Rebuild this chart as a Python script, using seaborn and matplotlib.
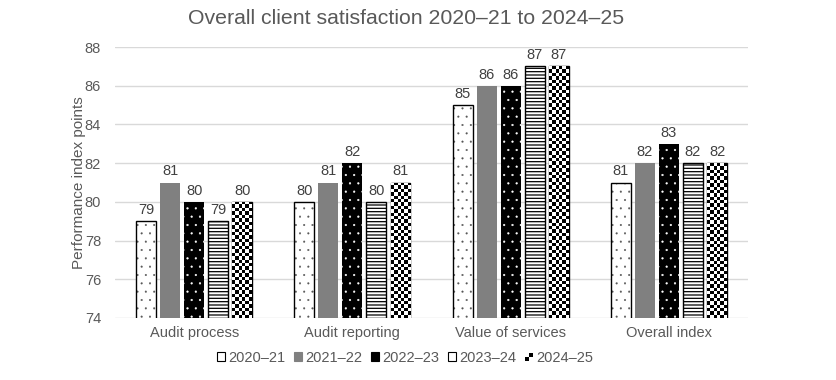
import numpy as np
import pandas as pd
import matplotlib
matplotlib.use('Agg')
import matplotlib.pyplot as plt
from matplotlib.patches import Patch, Rectangle
from matplotlib.legend_handler import HandlerBase
import seaborn as sns

categories = ['Audit process', 'Audit reporting', 'Value of services', 'Overall index']
years = ['2020–21', '2021–22', '2022–23', '2023–24', '2024–25']
v2020_21 = [79, 80, 85, 81]
v2021_22 = [81, 81, 86, 82]
v2022_23 = [80, 82, 86, 83]
v2023_24 = [79, 80, 87, 82]
v2024_25 = [80, 81, 87, 82]
yticks = [74, 76, 78, 80, 82, 84, 86, 88]

series = [v2020_21, v2021_22, v2022_23, v2023_24, v2024_25]
rows = []
for yr, vals in zip(years, series):
    for cat, v in zip(categories, vals):
        rows.append({'category': cat, 'year': yr, 'value': v})
df = pd.DataFrame(rows)

sns.set_theme(style='white')
plt.rcParams['font.family'] = ['Liberation Sans', 'DejaVu Sans']
plt.rcParams['hatch.linewidth'] = 0.8
txt = '#595959'

fig = plt.figure(figsize=(8.37, 3.80), dpi=100)
ax = fig.add_axes([0.1374, 0.1632, 0.7563, 0.713])

sns.barplot(data=df, x='category', y='value', hue='year', hue_order=years,
            order=categories, palette=['white'] * 5, width=0.76, gap=0.17,
            legend=False, ax=ax, zorder=3)

# styling per series
styles = [
    dict(fc='white', ec='black', lw=1.0, hatch='..', hc='#555555', hlw=0.25),
    dict(fc='#808080', ec='#808080', lw=0.0, hatch=None, hc=None, hlw=None),
    dict(fc='black', ec='white', lw=0.0, hatch='..', hc='white', hlw=0.35),
    dict(fc='white', ec='black', lw=1.0, hatch='-----', hc='black', hlw=0.9),
    dict(fc='white', ec='black', lw=1.0, hatch=None, hc=None, hlw=None),
]
for cont, st in zip(ax.containers, styles):
    for p in cont:
        p.set_facecolor(st['fc'])
        p.set_edgecolor(st['ec'])
        p.set_linewidth(st['lw'])
        if st['hatch']:
            p.set_hatch(st['hatch'])
            if hasattr(p, 'set_hatch_linewidth'):
                p.set_hatch_linewidth(st['hlw'])
        if st['hc'] is not None and st['hc'] != st['ec']:
            p._hatch_color = matplotlib.colors.to_rgba(st['hc'])

# checkerboard texture for last series
px_per_unit = 271 / 14.0
for p in ax.containers[4]:
    x0, w, top = p.get_x(), p.get_width(), p.get_height()
    nr = max(1, int(round((top - 74) * px_per_unit / 3.4)))
    nc = 6
    board = (np.indices((nr, nc)).sum(axis=0) % 2).astype(float)
    im = ax.imshow(board, cmap='gray', interpolation='nearest', aspect='auto',
                   extent=[x0, x0 + w, 74, top], origin='lower', zorder=3.5,
                   vmin=0, vmax=1)
    im.set_clip_path(p)
ax.set_ylim(74, 88)
ax.set_xlim(-0.5, 3.5)

for cont in ax.containers:
    ax.bar_label(cont, fmt='%d', padding=3, fontsize=10.5, color='#404040')

ax.set_yticks(yticks)
ax.grid(axis='y', color='#d9d9d9', lw=1, zorder=0)
ax.set_axisbelow(True)
for s in ['top', 'right', 'left', 'bottom']:
    ax.spines[s].set_visible(False)
ax.tick_params(axis='y', length=0, pad=10, labelsize=10.5, labelcolor=txt)
ax.tick_params(axis='x', length=0, pad=6, labelsize=10.5, labelcolor=txt)
ax.set_xlabel('')
ax.set_ylabel('Performance index points', fontsize=11, color=txt, labelpad=-1)
fig.text(0.485, 0.937, 'Overall client satisfaction 2020–21 to 2024–25',
         fontsize=15.3, color=txt, ha='center', va='baseline')


class HandlerChecker(HandlerBase):
    def create_artists(self, legend, orig_handle, xdescent, ydescent,
                       width, height, fontsize, trans):
        s = min(width, height)
        x0 = -xdescent + (width - s) / 2
        y0 = -ydescent + (height - s) / 2
        arts = [Rectangle((x0, y0), s, s, fc='white', ec='none', transform=trans)]
        h = s / 2
        arts.append(Rectangle((x0, y0), h, h, fc='black', ec='none', transform=trans))
        arts.append(Rectangle((x0 + h, y0 + h), h, h, fc='black', ec='none', transform=trans))
        return arts


handles = []
for i, st in enumerate(styles[:4]):
    handles.append(Patch(facecolor=st['fc'],
                         edgecolor='black' if i != 1 else '#808080',
                         lw=0.8, hatch=None))
checker = Patch(facecolor='white')
handles.append(checker)
fig.legend(handles, years, loc='center', bbox_to_anchor=(0.484, 0.058),
           ncol=5, frameon=False, fontsize=10.5, labelcolor=txt,
           handlelength=0.55, handleheight=0.55, handletextpad=0.2,
           columnspacing=0.62, handler_map={checker: HandlerChecker()})

fig.savefig('out.png', dpi=100)
